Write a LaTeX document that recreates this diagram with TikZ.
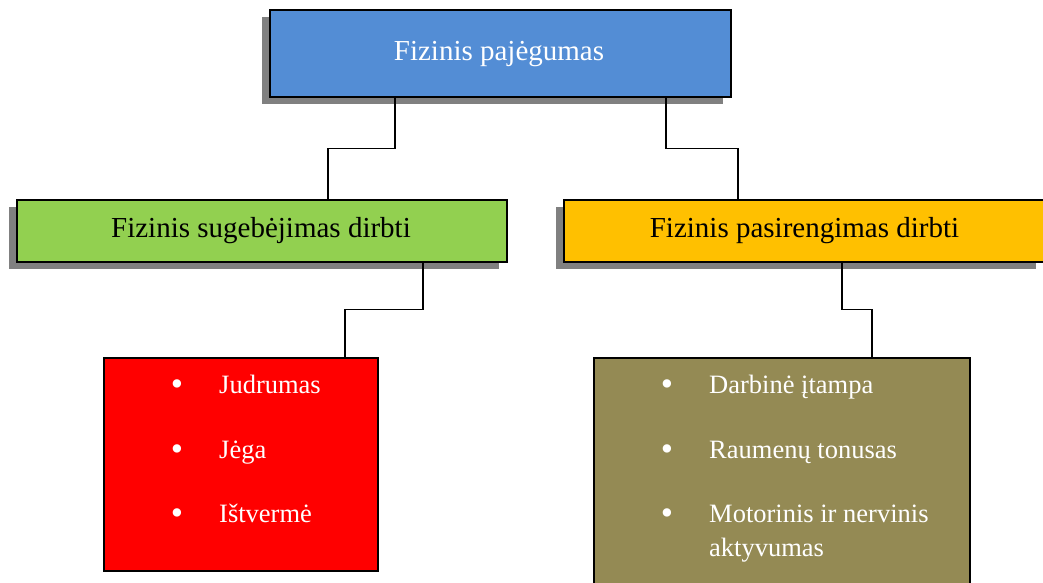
\documentclass[tikz,border=0pt]{standalone}
\usepackage{fontspec}
\setmainfont{Liberation Serif}
\usetikzlibrary{shadows}
\definecolor{topblue}{HTML}{538DD5}
\definecolor{leafgreen}{HTML}{92D050}
\definecolor{amber}{HTML}{FFC000}
\definecolor{olive}{HTML}{948A54}
\definecolor{shadowgray}{HTML}{808080}
\tikzset{
  box/.style={rectangle, draw=black, line width=1.6pt, inner sep=0pt, anchor=north west},
  shadowed/.style={drop shadow={shadow xshift=-8pt, shadow yshift=-7.5pt, fill=shadowgray, opacity=1}},
  title/.style={font=\fontsize{29}{35}\selectfont, anchor=base, inner sep=0pt},
  bullet/.style={font=\fontsize{35}{40}\selectfont, text=white, anchor=base, inner sep=0pt},
  item/.style={font=\fontsize{26.5}{32}\selectfont, text=white, anchor=base west, inner sep=0pt},
  link/.style={draw=black, line width=1.5pt}
}
\begin{document}
\begin{tikzpicture}[x=1pt, y=-1pt]
\useasboundingbox (0,0) rectangle (1043,582);

% boxes
\node[box, shadowed, fill=topblue, minimum width=461pt, minimum height=87pt] (top) at (269,9) {};
\node[box, shadowed, fill=leafgreen, minimum width=490pt, minimum height=62pt] (green) at (16,199) {};
\node[box, shadowed, fill=amber, minimum width=480.5pt, minimum height=62pt] (yellow) at (563,199) {};
\node[box, fill=red, minimum width=274pt, minimum height=213pt] (redbox) at (103,357) {};
\node[box, fill=olive, minimum width=376pt, minimum height=253pt] (olivebox) at (593,357) {};

% box titles
\node[title, text=white] (ttop) at (499,60) {Fizinis pajėgumas};
\node[title] (tgreen) at (261,237) {Fizinis sugebėjimas dirbti};
\node[title] (tyellow) at (804.5,237) {Fizinis pasirengimas dirbti};

% bullet lists
\node[bullet] (b1) at (177,395.5) {•};
\node[bullet] (b2) at (177,460.5) {•};
\node[bullet] (b3) at (177,524.5) {•};
\node[item] (i1) at (219,393) {Judrumas};
\node[item] (i2) at (219,458) {Jėga};
\node[item] (i3) at (219,522) {Ištvermė};

\node[bullet] (c1) at (667,395.5) {•};
\node[bullet] (c2) at (667,460.5) {•};
\node[bullet] (c3) at (667,524.5) {•};
\node[item] (j1) at (709,393) {Darbinė įtampa};
\node[item] (j2) at (709,458) {Raumenų tonusas};
\node[item] (j3) at (709,522) {Motorinis ir nervinis};
\node[item] (j4) at (709,556) {aktyvumas};

% elbow connectors
\draw[link] ([xshift=126pt]top.south west) -- ++(0,51) -| ([xshift=312pt]green.north west);
\draw[link] ([xshift=397pt]top.south west) -- ++(0,51) -| ([xshift=175pt]yellow.north west);
\draw[link] ([xshift=407pt]green.south west) -- ++(0,47) -| ([xshift=242pt]redbox.north west);
\draw[link] ([xshift=279pt]yellow.south west) -- ++(0,47) -| ([xshift=279pt]olivebox.north west);
\end{tikzpicture}
\end{document}
